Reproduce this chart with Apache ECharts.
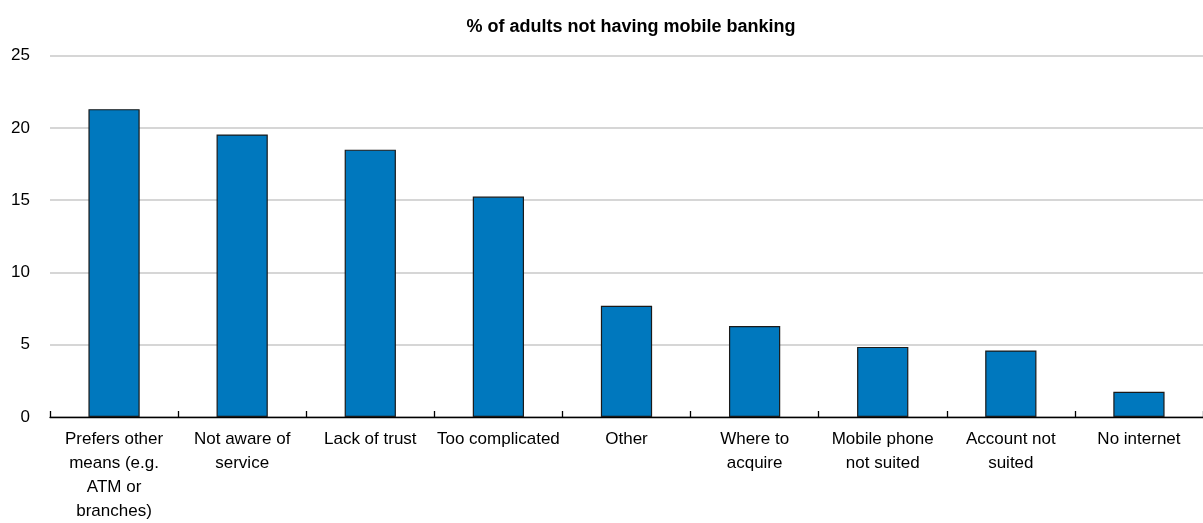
<!DOCTYPE html>
<html>
<head>
<meta charset="utf-8">
<script src="https://cdn.jsdelivr.net/npm/echarts@6/dist/echarts.min.js"></script>
<style>
  html, body { margin: 0; padding: 0; background: #fff; }
  #chart { width: 1203px; height: 523px; }
</style>
</head>
<body>
<div id="chart"></div>
<script>
// Reasons for not having mobile banking, share of adults (%)
const categories = [
  'Prefers other\nmeans (e.g.\nATM or\nbranches)',
  'Not aware of\nservice',
  'Lack of trust',
  'Too complicated',
  'Other',
  'Where to\nacquire',
  'Mobile phone\nnot suited',
  'Account not\nsuited',
  'No internet'
];
const shareOfAdults = [21.3, 19.55, 18.5, 15.25, 7.7, 6.3, 4.85, 4.6, 1.75];
const yTicks = { min: 0, max: 25, interval: 5 };
const chartTitle = '% of adults not having mobile banking';

const font = 'Arial, "Liberation Sans", sans-serif';
const chart = echarts.init(document.getElementById('chart'), null, { renderer: 'canvas' });

chart.setOption({
  animation: false,
  backgroundColor: '#ffffff',
  title: {
    text: chartTitle,
    left: 626,
    top: 13,
    textAlign: 'center',
    textStyle: { fontFamily: font, fontSize: 18, fontWeight: 'bold', color: '#000' }
  },
  // plot area runs slightly past the right edge of the canvas
  grid: { left: 50, width: 1161, top: 55.7, height: 367, containLabel: false },
  xAxis: {
    type: 'category',
    data: categories,
    axisLine: { show: true, lineStyle: { color: '#000', width: 1.3 } },
    axisTick: { show: true, inside: true, length: 6, alignWithLabel: false, lineStyle: { color: '#000', width: 1.3 } },
    axisLabel: {
      interval: 0,
      margin: 10,
      color: '#000',
      fontFamily: font,
      fontSize: 17,
      lineHeight: 24,
      align: 'center'
    },
    splitLine: { show: false }
  },
  yAxis: {
    type: 'value',
    min: yTicks.min,
    max: yTicks.max,
    interval: yTicks.interval,
    axisLine: { show: false },
    axisTick: { show: false },
    axisLabel: { color: '#000', fontFamily: font, fontSize: 17, margin: 20 },
    splitLine: { show: true, lineStyle: { color: '#c8c8c8', width: 1.5 } }
  },
  series: [{
    type: 'bar',
    data: shareOfAdults,
    barWidth: '40%',
    itemStyle: { color: '#0078be', borderColor: '#1a1a1a', borderWidth: 1.2 }
  }]
});
</script>
</body>
</html>
